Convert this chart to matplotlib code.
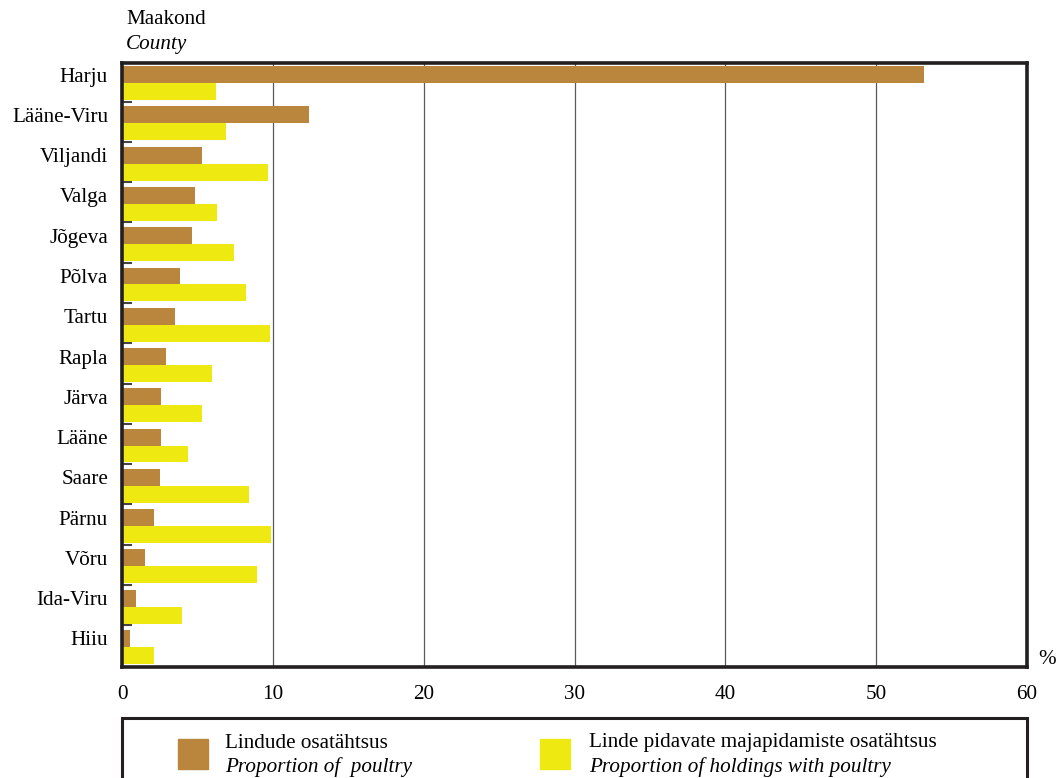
import matplotlib
matplotlib.use("Agg")
import matplotlib.pyplot as plt
from matplotlib.patches import Rectangle
import numpy as np

counties = ["Harju", "Lääne-Viru", "Viljandi", "Valga", "Jõgeva", "Põlva", "Tartu",
            "Rapla", "Järva", "Lääne", "Saare", "Pärnu", "Võru", "Ida-Viru", "Hiiu"]
poultry = [53.2, 12.4, 5.3, 4.85, 4.65, 3.85, 3.5, 2.95, 2.6, 2.6, 2.5, 2.1, 1.55, 0.95, 0.55]
holdings = [6.25, 6.9, 9.65, 6.3, 7.45, 8.25, 9.8, 5.95, 5.3, 4.35, 8.4, 9.85, 8.95, 3.95, 2.15]
xticks = [0, 10, 20, 30, 40, 50, 60]

BROWN = "#BA853D"
YELLOW = "#EEE911"
FRAME = "#231F20"
FS = 15.2

plt.rcParams['font.family'] = ['Liberation Serif', 'DejaVu Serif']

fig = plt.figure(figsize=(10.58, 7.78), dpi=100)
ax = fig.add_axes([122/1058, 1-667/778, 905/1058, 604/778])

y = np.arange(len(counties))
h = 0.42
ax.barh(y - h/2, poultry, height=h, color=BROWN, zorder=3)
ax.barh(y + h/2, holdings, height=h, color=YELLOW, zorder=3)

ax.set_xlim(0, 60)
ax.set_ylim(len(counties) - 0.5, -0.5)
for xv in xticks[1:-1]:
    ax.axvline(xv, color="#5a5a5a", lw=0.9, zorder=1)

ax.set_xticks(xticks)
ax.set_xticklabels([str(v) for v in xticks], fontsize=FS)
ax.tick_params(axis='x', length=0, pad=13)

ax.set_yticks(y - h/2)
ax.set_yticklabels(counties, fontsize=FS)
ax.tick_params(axis='y', which='major', length=0, pad=10)
ax.set_yticks(y[:-1] + 0.46, minor=True)
ax.tick_params(axis='y', which='minor', direction='in', length=7, width=1.5, color="#444444")

for s in ax.spines.values():
    s.set_linewidth(2.6)
    s.set_color(FRAME)
    s.set_zorder(5)

fig.text(1047/1058, 1-660/778, "%", fontsize=FS, ha='center', va='center')
fig.text(126/1058, 1-20/778, "Maakond", fontsize=FS, ha='left', va='center')
fig.text(126/1058, 1-44/778, "County", fontsize=FS, ha='left', va='center', style='italic')

# legend box
fig.patches.append(Rectangle((122/1058, -0.05), 905/1058, 0.05 + (778-718)/778,
                             transform=fig.transFigure, fill=False, lw=2.2,
                             edgecolor=FRAME, clip_on=False))
fig.patches.append(Rectangle((178/1058, 1-769/778), 30/1058, 30/778,
                             transform=fig.transFigure, color=BROWN))
fig.patches.append(Rectangle((540/1058, 1-769/778), 30/1058, 30/778,
                             transform=fig.transFigure, color=YELLOW))
fig.text(225/1058, 1-743/778, "Lindude osatähtsus", fontsize=FS, va='center')
fig.text(225/1058, 1-767/778, "Proportion of  poultry", fontsize=FS, va='center', style='italic')
fig.text(589/1058, 1-743/778, "Linde pidavate majapidamiste osatähtsus", fontsize=FS, va='center')
fig.text(589/1058, 1-767/778, "Proportion of holdings with poultry", fontsize=FS, va='center', style='italic')

fig.savefig("out.png", dpi=100)
